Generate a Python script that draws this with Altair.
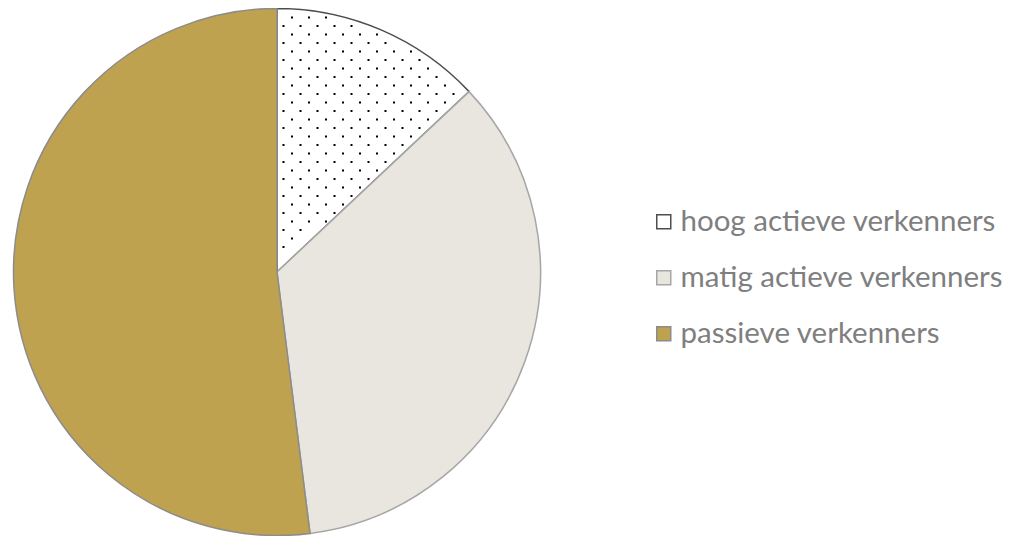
import math
import altair as alt
import pandas as pd

# --- data ---
categories = ["hoog actieve verkenners", "matig actieve verkenners", "passieve verkenners"]
values = [13, 35, 52]
order_idx = [0, 1, 2]

# --- styles ---
fill_colors = ["#ffffff", "#e8e6df", "#bfa24f"]
stroke_colors = ["#4d4d4d", "#a6a6a6", "#8c8c8c"]

df = pd.DataFrame({"categorie": categories, "aandeel": values, "volgorde": order_idx})

W = 994
H = 528
CX, CY = 269, 264
R = 263.5
end_angle = 2 * math.pi * values[0] / sum(values)

legend_kw = dict(
    title=None, orient="none", legendX=641, legendY=199,
    symbolType="square", symbolSize=196, symbolStrokeWidth=1.5,
    labelFont="Lato", labelFontSize=29.5, labelColor="#7f7f7f",
    labelOffset=2, rowPadding=25, labelLimit=600, padding=0,
)

pie = alt.Chart(df).mark_arc(radius=R, strokeWidth=1.5).encode(
    x=alt.value(CX),
    y=alt.value(CY),
    theta=alt.Theta("aandeel:Q", stack=True),
    order=alt.Order("volgorde:O"),
    color=alt.Color("categorie:N", scale=alt.Scale(domain=categories, range=fill_colors),
                    legend=alt.Legend(**legend_kw)),
    stroke=alt.Stroke("categorie:N", scale=alt.Scale(domain=categories, range=stroke_colors),
                      legend=alt.Legend(**legend_kw)),
)

# dot texture for the first slice
NC, NR = 32, 64
dots = alt.Chart(alt.sequence(0, NC * NR, as_="i")).transform_calculate(
    row=f"floor(datum.i / {NC})",
    col=f"datum.i % {NC}",
).transform_calculate(
    px="datum.col * 17 + 3.5 + (datum.row % 2) * 8.5",
    py="datum.row * 8.5 + 1",
).transform_calculate(
    dx=f"datum.px - {CX}",
    dy=f"{CY} - datum.py",
).transform_calculate(
    r="sqrt(datum.dx*datum.dx + datum.dy*datum.dy)",
    a="(atan2(datum.dx, datum.dy) + 2*PI) % (2*PI)",
).transform_filter(
    f"datum.r < {R-4} && datum.r > 3 && datum.a * datum.r > 3 && ({end_angle} - datum.a) * datum.r > 3"
).mark_square(size=4, color="#000000", opacity=1).encode(
    x=alt.X("px:Q", scale=alt.Scale(domain=[0, W], nice=False, zero=False), axis=None),
    y=alt.Y("py:Q", scale=alt.Scale(domain=[0, H], reverse=True, nice=False, zero=False), axis=None),
)

chart = alt.layer(pie, dots).properties(
    width=W, height=H, padding=0,
    autosize=alt.AutoSizeParams(type="none"),
).configure_view(stroke=None)

chart.save("out.html", embed_options={"renderer": "svg", "actions": False})
